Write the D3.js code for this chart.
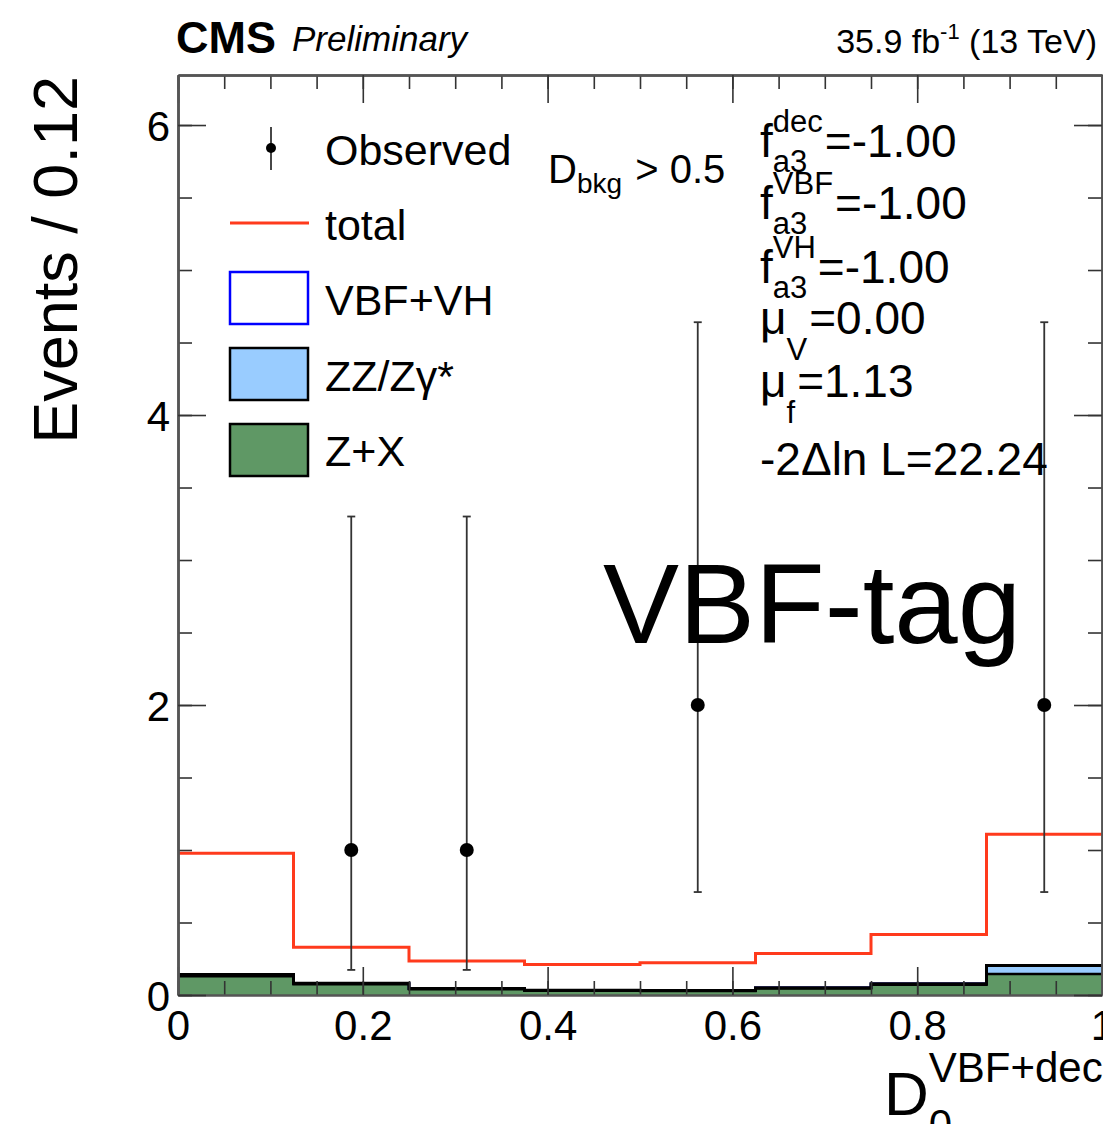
<!DOCTYPE html>
<html lang="en">
<head>
  <meta charset="UTF-8">
  <title>VBF-tag D0- distribution</title>
  <script src="https://d3js.org/d3.v7.min.js"></script>
  <style>
    body { margin: 0; background: #fff; }
    svg { font-family: "Liberation Sans", Helvetica, Arial, sans-serif; display: block; }
    svg text { white-space: pre; }
    .axis path { stroke: #555; stroke-width: 2.5; }
    .axis line { stroke: #333; stroke-width: 1.6; }
    .axis text { fill: #000; font-size: 42px; font-family: "Liberation Sans", Helvetica, Arial, sans-serif; }
  </style>
</head>
<body>
<svg width="1103" height="1124"></svg>

<script>
  // bin edges in D_{0-}^{VBF+dec}
  const binEdges = [0, 0.125, 0.25, 0.375, 0.5, 0.625, 0.75, 0.875, 1.0];

  // stacked backgrounds (events per bin)
  const zPlusX = [0.13, 0.075, 0.040, 0.030, 0.028, 0.045, 0.070, 0.145];
  const zzZg   = [0.012, 0.006, 0.004, 0.003, 0.003, 0.005, 0.008, 0.058];
  const vbfVh  = [0, 0, 0, 0, 0, 0, 0, 0];

  // total expectation (red line)
  const total  = [0.977, 0.329, 0.234, 0.211, 0.223, 0.287, 0.418, 1.108];

  // observed data with asymmetric (Poisson) errors
  const obsX   = [0.1875, 0.3125, 0.5625, 0.9375];
  const obsY   = [1, 1, 2, 2];
  const obsLo  = [0.827, 0.827, 1.29, 1.29];
  const obsHi  = [2.30, 2.30, 2.64, 2.64];

  const xTicks = [0, 0.2, 0.4, 0.6, 0.8, 1];
  const yTicks = [0, 2, 4, 6];

  const red = "#ff3a1c", green = "#5f9865", lightBlue = "#99ccff";

  const svg = d3.select("svg");
  const pLeft = 178, pRight = 1102, pTop = 75, pBottom = 995;

  const x = d3.scaleLinear().domain([0, 1]).range([pLeft, pRight]);
  const y = d3.scaleLinear().domain([0, 6.345]).range([pBottom, pTop]);

  // step points for a histogram
  const steps = vals => vals.flatMap((v, i) => [[binEdges[i], v], [binEdges[i + 1], v]]);

  const zxTop = zPlusX;
  const zzTop = zPlusX.map((v, i) => v + zzZg[i]);
  const vbfTop = zzTop.map((v, i) => v + vbfVh[i]);

  const area = d3.area().x(d => x(d[0])).y0(y(0)).y1(d => y(d[1]));
  const line = d3.line().x(d => x(d[0])).y(d => y(d[1]));

  const plot = svg.append("g");

  // fills: draw cumulative from top down
  plot.append("path").attr("d", area(steps(vbfTop))).attr("fill", "#fff");
  plot.append("path").attr("d", area(steps(zzTop))).attr("fill", lightBlue);
  plot.append("path").attr("d", area(steps(zxTop))).attr("fill", green);

  // outlines
  plot.append("path").attr("d", line(steps(vbfTop))).attr("fill", "none")
    .attr("stroke", "#0000ff").attr("stroke-width", 2.5);
  plot.append("path").attr("d", line(steps(zzTop))).attr("fill", "none")
    .attr("stroke", "#000").attr("stroke-width", 3);
  plot.append("path").attr("d", line(steps(zxTop))).attr("fill", "none")
    .attr("stroke", "#000").attr("stroke-width", 2.5);

  // total
  plot.append("path").attr("d", line(steps(total))).attr("fill", "none")
    .attr("stroke", red).attr("stroke-width", 3);

  // observed points
  const obs = obsX.map((v, i) => ({ x: v, y: obsY[i], lo: obsY[i] - obsLo[i], hi: obsY[i] + obsHi[i] }));
  const pts = plot.append("g").selectAll("g").data(obs).join("g");
  pts.append("line")
    .attr("x1", d => x(d.x)).attr("x2", d => x(d.x))
    .attr("y1", d => y(d.lo)).attr("y2", d => y(d.hi))
    .attr("stroke", "#333").attr("stroke-width", 1.8);
  pts.selectAll(".cap").data(d => [[d.x, d.lo], [d.x, d.hi]]).join("line")
    .attr("x1", d => x(d[0]) - 4).attr("x2", d => x(d[0]) + 4)
    .attr("y1", d => y(d[1])).attr("y2", d => y(d[1]))
    .attr("stroke", "#333").attr("stroke-width", 1.8);
  pts.append("circle")
    .attr("cx", d => x(d.x)).attr("cy", d => y(d.y)).attr("r", 7).attr("fill", "#000");

  // axes
  const xMinor = d3.range(0, 1.0001, 0.05);
  const yMinor = d3.range(0, 6.3, 0.5);

  svg.append("g").attr("class", "axis").attr("transform", `translate(0,${pBottom})`)
    .call(d3.axisBottom(x).tickValues(xMinor).tickSize(-14).tickSizeOuter(0).tickFormat(""))
    .call(g => g.select(".domain").remove());
  svg.append("g").attr("class", "axis").attr("transform", `translate(0,${pBottom})`)
    .call(d3.axisBottom(x).tickValues(xTicks).tickSize(-28).tickSizeOuter(0)
      .tickPadding(12).tickFormat(d3.format("")))
    .call(g => g.selectAll("text").attr("dy", "0.78em"));

  svg.append("g").attr("class", "axis").attr("transform", `translate(0,${pTop})`)
    .call(d3.axisTop(x).tickValues(xMinor).tickSize(-14).tickSizeOuter(0).tickFormat(""));
  svg.append("g").attr("class", "axis").attr("transform", `translate(0,${pTop})`)
    .call(d3.axisTop(x).tickValues(xTicks).tickSize(-28).tickSizeOuter(0).tickFormat(""));

  svg.append("g").attr("class", "axis").attr("transform", `translate(${pLeft},0)`)
    .call(d3.axisLeft(y).tickValues(yMinor).tickSize(-14).tickSizeOuter(0).tickFormat(""));
  svg.append("g").attr("class", "axis").attr("transform", `translate(${pLeft},0)`)
    .call(d3.axisLeft(y).tickValues(yTicks).tickSize(-28).tickSizeOuter(0).tickPadding(8)
      .tickFormat(d3.format("d")))
    .call(g => g.selectAll("text").attr("dy", "0.36em"));

  svg.append("g").attr("class", "axis").attr("transform", `translate(${pRight},0)`)
    .call(d3.axisRight(y).tickValues(yMinor).tickSize(-14).tickSizeOuter(0).tickFormat(""));
  svg.append("g").attr("class", "axis").attr("transform", `translate(${pRight},0)`)
    .call(d3.axisRight(y).tickValues(yTicks).tickSize(-28).tickSizeOuter(0).tickFormat(""));

  // text with super/subscript
  function scripted(x0, y0, base, size, sup, sub, rest, supSize, supShift, subShift) {
    const g = svg.append("g");
    const b = g.append("text").attr("x", x0).attr("y", y0).attr("font-size", size).text(base);
    const xs = x0 + b.node().getComputedTextLength();
    let w = 0;
    if (sup) {
      const s = g.append("text").attr("x", xs).attr("y", y0 + supShift).attr("font-size", supSize).text(sup);
      w = Math.max(w, s.node().getComputedTextLength());
    }
    if (sub) {
      const s = g.append("text").attr("x", xs).attr("y", y0 + subShift).attr("font-size", supSize).text(sub);
      w = Math.max(w, s.node().getComputedTextLength());
    }
    if (rest) g.append("text").attr("x", xs + w + 2).attr("y", y0).attr("font-size", size).text(rest);
    return g;
  }

  // header
  svg.append("text").attr("x", 176).attr("y", 53).attr("font-size", 45)
    .attr("font-weight", "bold").text("CMS");
  svg.append("text").attr("x", 292).attr("y", 51).attr("font-size", 35)
    .attr("font-style", "italic").text("Preliminary");
  const lumi = svg.append("text").attr("x", 1097).attr("y", 53).attr("font-size", 34)
    .attr("text-anchor", "end");
  lumi.append("tspan").text("35.9 fb");
  lumi.append("tspan").attr("dy", -14).attr("font-size", 22).text("-1");
  lumi.append("tspan").attr("dy", 14).text(" (13 TeV)");

  // axis titles
  svg.append("text").attr("transform", "translate(77,76) rotate(-90)")
    .attr("text-anchor", "end").attr("font-size", 63).text("Events / 0.12");
  scripted(884, 1115, "D", 62, "VBF+dec", "0-", null, 42, -33, 24);

  // legend
  const legend = svg.append("g");
  legend.append("line").attr("x1", 271).attr("x2", 271).attr("y1", 127).attr("y2", 170)
    .attr("stroke", "#333").attr("stroke-width", 1.8);
  legend.append("circle").attr("cx", 271).attr("cy", 148).attr("r", 5).attr("fill", "#000");
  legend.append("line").attr("x1", 230).attr("x2", 309).attr("y1", 223).attr("y2", 223)
    .attr("stroke", red).attr("stroke-width", 3);
  const boxes = [
    { y: 272, fill: "#fff", stroke: "#0000ff" },
    { y: 348, fill: lightBlue, stroke: "#000" },
    { y: 424, fill: green, stroke: "#000" }
  ];
  legend.selectAll("rect").data(boxes).join("rect")
    .attr("x", 230).attr("y", d => d.y).attr("width", 78).attr("height", 52)
    .attr("fill", d => d.fill).attr("stroke", d => d.stroke).attr("stroke-width", 2.5);
  const legendLabels = ["Observed", "total", "VBF+VH", "ZZ/Z\u03b3*", "Z+X"];
  const legendBase = [165, 240, 315, 391, 466];
  legend.selectAll(".lab").data(legendLabels).join("text")
    .attr("x", 325).attr("y", (d, i) => legendBase[i]).attr("font-size", 43).text(d => d);

  // selection label
  scripted(548, 183, "D", 40, null, "bkg", " > 0.5", 28, 0, 10);

  // fit results
  scripted(760, 157, "f", 46, "dec", "a3", "=-1.00", 31, -25, 15);
  scripted(760, 219, "f", 46, "VBF", "a3", "=-1.00", 31, -25, 15);
  scripted(760, 283, "f", 46, "VH", "a3", "=-1.00", 31, -25, 15);
  scripted(760, 334, "\u03bc", 46, null, "V", "=0.00", 31, 0, 26);
  scripted(760, 397, "\u03bc", 46, null, "f", "=1.13", 31, 0, 26);
  svg.append("text").attr("x", 760).attr("y", 475).attr("font-size", 46).text("-2\u0394ln L=22.24");

  // category label
  svg.append("text").attr("x", 603).attr("y", 643).attr("font-size", 114).text("VBF-tag");
</script>
</body>
</html>
